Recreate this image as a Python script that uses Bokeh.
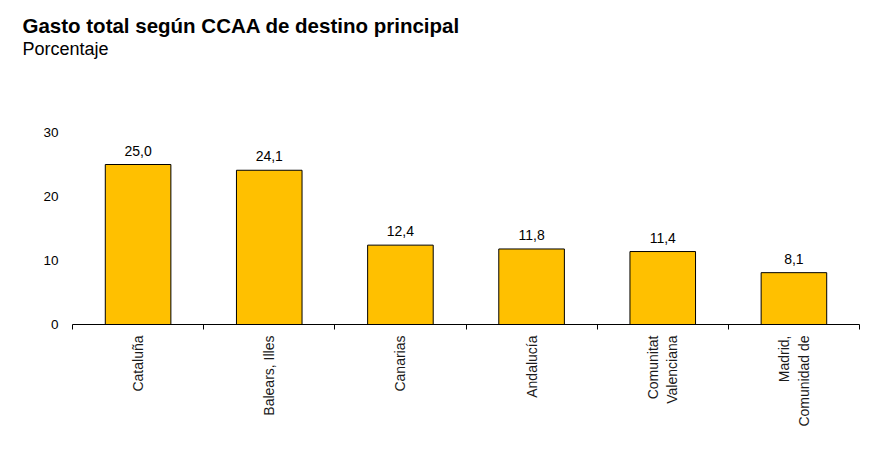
import math
from bokeh.plotting import figure
from bokeh.models import FixedTicker, Title, ColumnDataSource, Range1d
from bokeh.core.properties import value
from bokeh.embed import file_html
from bokeh.resources import INLINE

categories = ["Cataluña", "Balears, Illes", "Canarias", "Andalucía",
              "Comunitat\nValenciana", "Madrid,\nComunidad de"]
values = [25.0, 24.1, 12.4, 11.8, 11.4, 8.1]
y_ticks = [0, 10, 20, 30]
title_text = "Gasto total según CCAA de destino principal"
subtitle_text = "Porcentaje"

FONT = "Liberation Sans"
n = len(categories)
xs = [i + 0.5 for i in range(n)]
labels = [f"{v:.1f}".replace(".", ",") for v in values]
src = ColumnDataSource(dict(x=xs, top=values, label=labels))

TOP = 58
p = figure(width=882, height=461, x_range=Range1d(0, n), y_range=Range1d(0, (324 - TOP) / 6.4),
           output_backend="svg", toolbar_location=None, title=None,
           min_border_left=72, min_border_right=23, min_border_bottom=137, min_border_top=TOP)

p.vbar(x="x", top="top", width=0.5, bottom=0, source=src,
       fill_color="#FFC000", line_color="#000000", line_width=1)
p.text(x="x", y="top", text="label", source=src, text_align="center",
       text_baseline="alphabetic", y_offset=-14, text_font=value(FONT),
       text_font_size="14px", text_color="#000000")

xa = p.xaxis[0]
xa.ticker = FixedTicker(ticks=xs, minor_ticks=list(range(n + 1)))
xa.major_label_overrides = {x: c for x, c in zip(xs, categories)}
xa.major_label_orientation = math.pi / 2
xa.major_tick_line_color = None
xa.major_tick_out = 5
xa.major_tick_in = 0
xa.minor_tick_line_color = "#000000"
xa.minor_tick_out = 5
xa.minor_tick_in = 0
xa.axis_line_color = "#000000"
xa.major_label_standoff = 6
xa.major_label_text_font = FONT
xa.major_label_text_font_size = "14px"
xa.major_label_text_color = "#1a1a1a"
xa.major_label_text_line_height = 1.2
xa.major_label_text_align = "center"

ya = p.yaxis[0]
ya.ticker = FixedTicker(ticks=y_ticks)
ya.axis_line_color = None
ya.major_tick_line_color = None
ya.minor_tick_line_color = None
ya.major_tick_out = 0
ya.major_tick_in = 0
ya.major_label_standoff = 14
ya.major_label_text_font = FONT
ya.major_label_text_font_size = "13.5px"
ya.major_label_text_color = "#000000"

p.xgrid.visible = False
p.ygrid.visible = False
p.outline_line_color = None

p.add_layout(Title(text=subtitle_text, text_font_size="18px", text_font_style="normal",
                   text_font=FONT, align="left", offset=-50, standoff=0,
                   text_color="#000000"), "above")
p.add_layout(Title(text=title_text, text_font_size="20.5px", text_font_style="bold",
                   text_font=FONT, align="left", offset=-50, standoff=0,
                   text_color="#000000"), "above")

open("out.html", "w").write(file_html(p, INLINE))
